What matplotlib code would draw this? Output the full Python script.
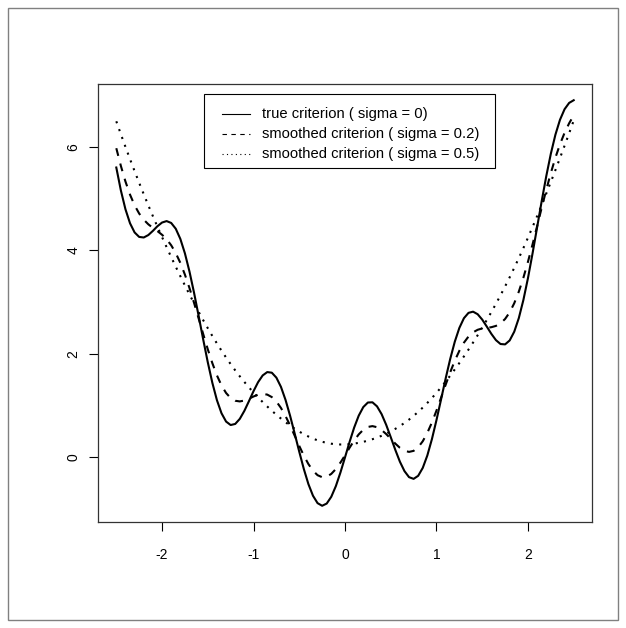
import matplotlib
matplotlib.use("Agg")
import matplotlib.pyplot as plt
from matplotlib.patches import Rectangle
from matplotlib.lines import Line2D

# ---------------- data ----------------
x_vals = [-2.5, -2.45, -2.4, -2.35, -2.3, -2.25, -2.2, -2.15, -2.1, -2.05,
          -2.0, -1.95, -1.9, -1.85, -1.8, -1.75, -1.7, -1.65, -1.6, -1.55,
          -1.5, -1.45, -1.4, -1.35, -1.3, -1.25, -1.2, -1.15, -1.1, -1.05,
          -1.0, -0.95, -0.9, -0.85, -0.8, -0.75, -0.7, -0.65, -0.6, -0.55,
          -0.5, -0.45, -0.4, -0.35, -0.3, -0.25, -0.2, -0.15, -0.1, -0.05,
          0.0, 0.05, 0.1, 0.15, 0.2, 0.25, 0.3, 0.35, 0.4, 0.45,
          0.5, 0.55, 0.6, 0.65, 0.7, 0.75, 0.8, 0.85, 0.9, 0.95,
          1.0, 1.05, 1.1, 1.15, 1.2, 1.25, 1.3, 1.35, 1.4, 1.45,
          1.5, 1.55, 1.6, 1.65, 1.7, 1.75, 1.8, 1.85, 1.9, 1.95,
          2.0, 2.05, 2.1, 2.15, 2.2, 2.25, 2.3, 2.35, 2.4, 2.45, 2.5]

true_sigma0 = [5.600, 5.157, 4.794, 4.523, 4.346, 4.259, 4.248, 4.295, 4.376, 4.466,
               4.537, 4.565, 4.529, 4.417, 4.221, 3.942, 3.590, 3.180, 2.734, 2.278,
               1.838, 1.440, 1.105, 0.853, 0.692, 0.625, 0.646, 0.744, 0.899, 1.086,
               1.279, 1.453, 1.583, 1.648, 1.636, 1.540, 1.362, 1.110, 0.803, 0.460,
               0.109, -0.225, -0.516, -0.741, -0.884, -0.935, -0.892, -0.761, -0.555, -0.293,
               0.000, 0.298, 0.575, 0.806, 0.972, 1.060, 1.064, 0.986, 0.836, 0.630,
               0.391, 0.145, -0.083, -0.265, -0.382, -0.415, -0.356, -0.203, 0.037, 0.352,
               0.721, 1.119, 1.522, 1.901, 2.234, 2.501, 2.689, 2.792, 2.815, 2.766,
               2.662, 2.527, 2.386, 2.265, 2.190, 2.183, 2.259, 2.428, 2.691, 3.041,
               3.463, 3.939, 4.444, 4.950, 5.432, 5.866, 6.234, 6.522, 6.726, 6.848, 6.900]

smooth_sigma02 = [5.973, 5.631, 5.330, 5.076, 4.870, 4.711, 4.592, 4.503, 4.434, 4.371,
                  4.301, 4.214, 4.098, 3.947, 3.758, 3.531, 3.271, 2.985, 2.685, 2.382,
                  2.089, 1.820, 1.584, 1.390, 1.244, 1.146, 1.094, 1.081, 1.098, 1.134,
                  1.176, 1.211, 1.226, 1.213, 1.165, 1.079, 0.955, 0.798, 0.616, 0.419,
                  0.221, 0.034, -0.129, -0.258, -0.344, -0.383, -0.374, -0.319, -0.225, -0.101,
                  0.040, 0.186, 0.325, 0.444, 0.534, 0.588, 0.604, 0.583, 0.529, 0.451,
                  0.359, 0.266, 0.185, 0.128, 0.106, 0.126, 0.195, 0.312, 0.474, 0.674,
                  0.904, 1.151, 1.402, 1.644, 1.867, 2.059, 2.216, 2.335, 2.416, 2.465,
                  2.491, 2.503, 2.515, 2.540, 2.589, 2.674, 2.802, 2.978, 3.202, 3.471,
                  3.779, 4.114, 4.466, 4.822, 5.168, 5.494, 5.790, 6.049, 6.270, 6.454, 6.607]

smooth_sigma05 = [6.493, 6.243, 5.999, 5.762, 5.530, 5.304, 5.084, 4.869, 4.660, 4.455,
                  4.256, 4.061, 3.870, 3.683, 3.501, 3.322, 3.148, 2.978, 2.812, 2.651,
                  2.496, 2.345, 2.201, 2.062, 1.929, 1.802, 1.681, 1.566, 1.457, 1.352,
                  1.253, 1.159, 1.069, 0.983, 0.901, 0.823, 0.750, 0.680, 0.615, 0.554,
                  0.498, 0.448, 0.403, 0.363, 0.329, 0.302, 0.280, 0.264, 0.254, 0.249,
                  0.250, 0.256, 0.266, 0.281, 0.300, 0.324, 0.351, 0.382, 0.417, 0.457,
                  0.502, 0.551, 0.605, 0.665, 0.730, 0.802, 0.879, 0.962, 1.052, 1.146,
                  1.247, 1.353, 1.463, 1.579, 1.699, 1.823, 1.951, 2.083, 2.219, 2.360,
                  2.505, 2.654, 2.808, 2.967, 3.132, 3.303, 3.479, 3.662, 3.850, 4.044,
                  4.244, 4.450, 4.660, 4.876, 5.097, 5.321, 5.550, 5.784, 6.021, 6.262, 6.507]

x_ticks = [-2, -1, 0, 1, 2]
y_ticks = [0, 2, 4, 6]
legend_labels = ["true criterion ( sigma = 0)",
                 "smoothed criterion ( sigma = 0.2)",
                 "smoothed criterion ( sigma = 0.5)"]

# ---------------- figure ----------------
W, H = 626, 628
plt.rcParams['font.family'] = ['Liberation Sans', 'DejaVu Sans']
fig = plt.figure(figsize=(W / 100, H / 100), dpi=100)

def fx(p):
    return p / W

def fy(p):
    return 1 - p / H

# outer frame
fig.add_artist(Rectangle((fx(8), fy(620)), fx(618) - fx(8), fy(8) - fy(620),
                         transform=fig.transFigure, fill=False,
                         edgecolor='#808080', linewidth=1.0))

L, R, T, B = 98, 592, 84, 522
ax = fig.add_axes([fx(L), fy(B), fx(R) - fx(L), fy(T) - fy(B)])

lw = 1.5
ax.plot(x_vals, true_sigma0, color='black', linewidth=lw, linestyle='-')
ax.plot(x_vals, smooth_sigma02, color='black', linewidth=lw,
        linestyle=(0, (3.8, 3.8)))
ax.plot(x_vals, smooth_sigma05, color='black', linewidth=lw,
        linestyle=(0, (1.0, 3.0)))

ymin = min(true_sigma0)
ymax = max(true_sigma0)
yr = ymax - ymin
ax.set_xlim(-2.7, 2.7)
ax.set_ylim(ymin - 0.04 * yr, ymax + 0.04 * yr)

fs = 10
ax.set_xticks(x_ticks)
ax.set_xticklabels([str(v) for v in x_ticks])
ax.set_yticks(y_ticks)
ax.set_yticklabels([str(v) for v in y_ticks], rotation=90, va='center')
ax.tick_params(axis='both', direction='out', length=6.5, width=0.8,
               labelsize=fs, colors='black')
ax.tick_params(axis='x', pad=12)
ax.tick_params(axis='y', pad=6)
for s in ax.spines.values():
    s.set_linewidth(0.9)
    s.set_color('#333333')

# legend box (R-style)
fig.add_artist(Rectangle((fx(204), fy(168)), fx(495) - fx(204), fy(94) - fy(168),
                         transform=fig.transFigure, fill=True, facecolor='white',
                         edgecolor='black', linewidth=0.8, zorder=5))
row_y = [114, 134, 154]
styles = ['-', (0, (4, 4)), (0, (1, 3))]
for yy, st, lab in zip(row_y, styles, legend_labels):
    fig.add_artist(Line2D([fx(222), fx(250)], [fy(yy), fy(yy)],
                          transform=fig.transFigure, color='black',
                          linewidth=0.8, linestyle=st, zorder=6))
    fig.text(fx(262), fy(yy), lab, fontsize=10.6, va='center', ha='left',
             zorder=6)

fig.savefig("out.png", dpi=100)
